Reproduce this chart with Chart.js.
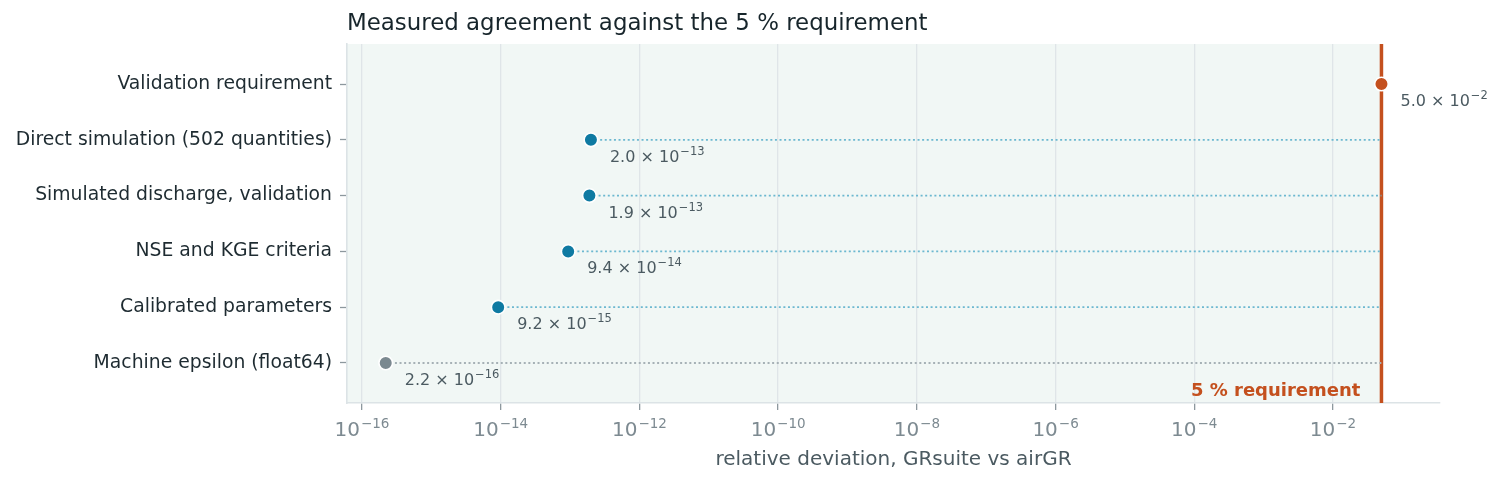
<!DOCTYPE html>
<html lang="en">
<head>
<meta charset="UTF-8">
<title>Measured agreement against the 5 % requirement</title>
<script src="https://cdn.jsdelivr.net/npm/chart.js"></script>
<style>
  html, body { margin: 0; padding: 0; background: #fff; overflow: hidden; }
  canvas { display: block; }
</style>
</head>
<body>
<canvas id="chart" width="1502" height="484"></canvas>
<script>
// rows, top to bottom
const categories = [
  'Validation requirement',
  'Direct simulation (502 quantities)',
  'Simulated discharge, validation',
  'NSE and KGE criteria',
  'Calibrated parameters',
  'Machine epsilon (float64)'
];
const deviations = [5.0e-2, 2.0e-13, 1.9e-13, 9.4e-14, 9.2e-15, 2.2e-16];
const rowKinds = ['requirement', 'measured', 'measured', 'measured', 'measured', 'epsilon'];
const requirement = 0.05;
const xTickExponents = [-16, -14, -12, -10, -8, -6, -4, -2];

const FONT = "'DejaVu Sans', sans-serif";
const RED = '#c4501e';
const kindStyle = {
  requirement: { dot: RED, link: null },
  measured: { dot: '#0f7aa2', link: '#6cb8d0' },
  epsilon: { dot: '#7b8990', link: '#a6b1b6' }
};

// "a × 10^b" with a raised exponent
function drawPower(ctx, x, y, lead, exp, size, supSize, rise, align) {
  const base = lead ? lead + ' \u00d7 10' : '10';
  const sup = exp < 0 ? '\u2212' + Math.abs(exp) : String(exp);
  ctx.font = size + 'px ' + FONT;
  const w1 = ctx.measureText(base).width;
  ctx.font = supSize + 'px ' + FONT;
  const w2 = ctx.measureText(sup).width;
  const x0 = align === 'center' ? x - (w1 + w2 + 1) / 2 : x;
  ctx.textAlign = 'left';
  ctx.textBaseline = 'alphabetic';
  ctx.font = size + 'px ' + FONT;
  ctx.fillText(base, x0, y);
  ctx.font = supSize + 'px ' + FONT;
  ctx.fillText(sup, x0 + w1 + 1, y - rise);
}

const decorations = {
  id: 'decorations',
  beforeDraw(chart) {
    const { ctx, chartArea: a, scales: { x } } = chart;
    ctx.save();
    ctx.fillStyle = '#f1f7f5';
    ctx.fillRect(a.left, a.top, x.getPixelForValue(requirement) - a.left, a.bottom - a.top);
    ctx.restore();
  },
  afterDatasetsDraw(chart) {
    const { ctx, scales: { x, y } } = chart;
    ctx.save();
    ctx.fillStyle = '#4b5a61';
    deviations.forEach((v, i) => {
      const parts = v.toExponential(1).split('e');
      const px = x.getPixelForValue(v);
      const py = y.getPixelForValue(i);
      drawPower(ctx, px + 19, py + 22, parts[0], parseInt(parts[1], 10), 16, 11.5, 7, 'left');
    });
    ctx.restore();
  },
  afterDraw(chart) {
    const { ctx, chartArea: a, scales: { x } } = chart;
    ctx.save();
    // title
    ctx.fillStyle = '#17252b';
    ctx.font = '22.9px ' + FONT;
    ctx.textAlign = 'left';
    ctx.textBaseline = 'alphabetic';
    ctx.fillText('Measured agreement against the 5 % requirement', a.left, 30);
    // x tick labels
    ctx.fillStyle = '#7d8a91';
    xTickExponents.forEach(e => {
      drawPower(ctx, x.getPixelForValue(Math.pow(10, e)), a.bottom + 33, null, e, 20, 13.5, 8, 'center');
    });
    // x axis title
    ctx.fillStyle = '#4b5a61';
    ctx.font = '20px ' + FONT;
    ctx.textAlign = 'center';
    ctx.fillText('relative deviation, GRsuite vs airGR', (a.left + a.right) / 2, a.bottom + 62);
    // requirement tag
    ctx.fillStyle = RED;
    ctx.font = 'bold 18px ' + FONT;
    ctx.textAlign = 'right';
    ctx.fillText('5 % requirement', x.getPixelForValue(requirement) - 21, a.bottom - 7);
    ctx.restore();
  }
};

const yMin = -0.717, yMax = 5.717;

const datasets = [{
  type: 'scatter',
  order: 0,
  data: deviations.map((v, i) => ({ x: v, y: i })),
  backgroundColor: rowKinds.map(k => kindStyle[k].dot),
  borderColor: '#ffffff',
  borderWidth: 1.6,
  pointRadius: 6.8,
  pointHoverRadius: 6.8
}];

deviations.forEach((v, i) => {
  const link = kindStyle[rowKinds[i]].link;
  if (!link) return;
  datasets.push({
    type: 'line',
    order: 1,
    data: [{ x: v, y: i }, { x: requirement, y: i }],
    borderColor: link,
    borderWidth: 1.8,
    borderDash: [2, 2.6],
    pointRadius: 0
  });
});

datasets.push({
  type: 'line',
  order: 2,
  data: [{ x: requirement, y: yMin }, { x: requirement, y: yMax }],
  borderColor: RED,
  borderWidth: 3.5,
  pointRadius: 0
});

new Chart(document.getElementById('chart'), {
  data: { datasets },
  options: {
    responsive: false,
    devicePixelRatio: 1,
    animation: false,
    layout: { padding: { top: 44, right: 62, left: 0, bottom: 0 } },
    plugins: { legend: { display: false }, tooltip: { enabled: false } },
    scales: {
      x: {
        type: 'logarithmic',
        min: Math.pow(10, -16.216),
        max: Math.pow(10, -0.457),
        afterBuildTicks: s => { s.ticks = xTickExponents.map(e => ({ value: Math.pow(10, e) })); },
        afterFit: s => { s.height = 81; },
        ticks: { display: false },
        grid: { color: '#dfe5e8', lineWidth: 1.3, tickLength: 7, tickColor: '#8d989e', tickWidth: 1.3 },
        border: { color: '#dce3e6', width: 1.6 }
      },
      y: {
        type: 'linear',
        reverse: true,
        min: yMin,
        max: yMax,
        afterBuildTicks: s => { s.ticks = categories.map((c, i) => ({ value: i })); },
        afterFit: s => { s.width = 347; },
        ticks: {
          callback: v => categories[v],
          color: '#1e2b31',
          font: { family: FONT, size: 18.8 },
          padding: 8
        },
        grid: { drawOnChartArea: false, tickLength: 7, tickColor: '#8d989e', tickWidth: 1.3 },
        border: { color: '#dce3e6', width: 1.6 }
      }
    }
  },
  plugins: [decorations]
});
</script>
</body>
</html>
